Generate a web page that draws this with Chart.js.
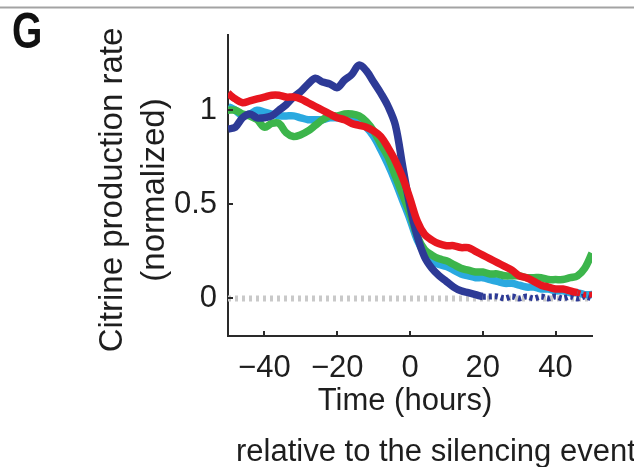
<!DOCTYPE html>
<html>
<head>
<meta charset="utf-8">
<script src="https://cdn.jsdelivr.net/npm/chart.js@4/dist/chart.umd.min.js"></script>
<style>
  html, body { margin: 0; padding: 0; background: #fff; }
  #wrap { width: 634px; height: 467px; position: relative; }
</style>
</head>
<body>
<div id="wrap"><canvas id="c" width="634" height="467"></canvas></div>
<script>
// ---- data ----
const timeHours = [-50,-48,-46,-44,-42,-40,-38,-36,-34,-32,-30,-28,-26,-24,-22,-20,-18,-16,-14,-12,-10,-8,-6,-4,-2,0,2,4,6,8,10,12,14,16,18,20,22,24,26,28,30,32,34,36,38,40,42,44,46,48,50];

const blueRate = [0.90,0.91,0.96,0.98,0.96,0.96,0.97,1.00,1.03,1.07,1.10,1.14,1.17,1.15,1.14,1.12,1.16,1.19,1.24,1.21,1.15,1.09,1.02,0.92,0.70,0.49,0.33,0.22,0.16,0.12,0.09,0.06,0.04,0.03,0.02,0.01,0.01,0.01,0.00,0.01,0.00,0.01,0.00,0.01,0.00,0.01,0.00,0.01,0.00,0.01,0.00];

const cyanRate = [1.02,1.00,0.97,0.98,1.00,0.99,0.98,0.97,0.97,0.97,0.96,0.95,0.95,0.95,0.96,0.96,0.96,0.95,0.94,0.91,0.86,0.79,0.71,0.62,0.52,0.42,0.31,0.24,0.20,0.18,0.17,0.15,0.13,0.12,0.11,0.11,0.10,0.09,0.08,0.08,0.07,0.06,0.06,0.05,0.05,0.04,0.04,0.03,0.03,0.02,0.02];

const greenRate = [1.00,1.00,0.98,0.97,0.95,0.91,0.93,0.93,0.88,0.86,0.87,0.89,0.92,0.95,0.97,0.97,0.98,0.98,0.97,0.94,0.89,0.82,0.75,0.65,0.55,0.45,0.33,0.26,0.23,0.21,0.20,0.18,0.16,0.15,0.14,0.14,0.13,0.13,0.12,0.12,0.12,0.11,0.11,0.11,0.10,0.10,0.10,0.11,0.12,0.16,0.24];

const redRate = [1.09,1.06,1.04,1.05,1.06,1.07,1.08,1.08,1.07,1.07,1.06,1.04,1.02,1.00,0.98,0.96,0.95,0.93,0.92,0.91,0.89,0.86,0.80,0.73,0.64,0.53,0.41,0.34,0.31,0.29,0.28,0.28,0.27,0.27,0.25,0.23,0.21,0.19,0.17,0.15,0.12,0.11,0.09,0.07,0.06,0.05,0.05,0.04,0.03,0.02,0.02];

const baselineRate = timeHours.map(() => 0);

const xTickValues = [-40, -20, 0, 20, 40];
const yTickValues = [0, 0.5, 1];
const blueDottedFrom = 20;   // hours: blue trace drawn dotted from here on
const redDottedFrom = 46;    // hours: red trace drawn dotted from here on

const yTitleLines = ['Citrine production rate', '(normalized)'];
const xTitleLines = ['Time (hours)', 'relative to the silencing event'];
const panelLetter = 'G';

// ---- chart ----
const pts = (arr) => timeHours.map((t, i) => ({ x: t, y: arr[i] }));
const minus = (v) => (v < 0 ? '\u2212' + Math.abs(v) : String(v));
const FONT = '"Liberation Sans", Arial, Helvetica, sans-serif';
const TEXT = '#1e1e1e';
const AXIS = '#2a2a2a';

const decor = {
  id: 'decor',
  afterDraw(chart) {
    const ctx = chart.ctx;
    const xs = chart.scales.x, ys = chart.scales.y;
    const ca = chart.chartArea;
    ctx.save();
    // top rule
    ctx.strokeStyle = '#a3a3a3';
    ctx.lineWidth = 2;
    ctx.beginPath(); ctx.moveTo(0, 7.5); ctx.lineTo(chart.width, 7.5); ctx.stroke();
    // inward tick marks
    ctx.strokeStyle = AXIS;
    ctx.lineWidth = 2;
    xTickValues.forEach(v => {
      const px = Math.round(xs.getPixelForValue(v));
      ctx.beginPath(); ctx.moveTo(px, ca.bottom); ctx.lineTo(px, ca.bottom - 5); ctx.stroke();
    });
    yTickValues.forEach(v => {
      const py = Math.round(ys.getPixelForValue(v));
      ctx.beginPath(); ctx.moveTo(ca.left, py); ctx.lineTo(ca.left + 5, py); ctx.stroke();
    });
    // panel letter (condensed bold)
    ctx.save();
    ctx.fillStyle = '#111';
    ctx.font = 'bold 50px ' + FONT;
    ctx.textAlign = 'left'; ctx.textBaseline = 'alphabetic';
    ctx.translate(12, 48);
    ctx.scale(0.78, 1);
    ctx.fillText(panelLetter, 0, 0);
    ctx.restore();
    // x titles
    ctx.fillStyle = TEXT;
    ctx.font = '31px ' + FONT;
    ctx.textAlign = 'center';
    ctx.fillText(xTitleLines[0], 405, 410);
    ctx.textAlign = 'left';
    ctx.fillText(xTitleLines[1], 236, 461);
    // y titles
    ctx.font = '33px ' + FONT;
    ctx.textAlign = 'center';
    [[yTitleLines[0], 122], [yTitleLines[1], 164]].forEach(([txt, bx]) => {
      ctx.save();
      ctx.translate(bx, 190);
      ctx.rotate(-Math.PI / 2);
      ctx.fillText(txt, 0, 0);
      ctx.restore();
    });
    ctx.restore();
  }
};

const lineDs = (label, data, color, order, dashFrom) => ({
  label, data: pts(data), borderColor: color, backgroundColor: color,
  borderWidth: 7.5, pointRadius: 0, tension: 0.35, order,
  borderCapStyle: 'butt', borderJoinStyle: 'round',
  segment: dashFrom === undefined ? undefined : {
    borderDash: c => (c.p0.parsed.x >= dashFrom ? [3, 3] : undefined),
    borderWidth: c => (c.p0.parsed.x >= dashFrom ? 6 : 7.5)
  }
});

new Chart(document.getElementById('c'), {
  type: 'line',
  data: {
    datasets: [
      { label: 'baseline', data: pts(baselineRate), borderColor: '#c9c9c9',
        borderWidth: 6, borderDash: [3, 4], pointRadius: 0, order: 5, borderCapStyle: 'butt' },
      lineDs('cyan', cyanRate, '#2aa9e0', 4),
      lineDs('green', greenRate, '#3cb54b', 3),
      lineDs('blue', blueRate, '#2d3a96', 2, blueDottedFrom),
      lineDs('red', redRate, '#e8161f', 1, redDottedFrom)
    ]
  },
  options: {
    responsive: false,
    animation: false,
    events: [],
    layout: { padding: { left: 0, top: 35, right: 42, bottom: 0 } },
    plugins: { legend: { display: false }, tooltip: { enabled: false } },
    scales: {
      x: {
        type: 'linear', min: -50, max: 50,
        grid: { display: false, drawTicks: false },
        border: { display: true, color: AXIS, width: 2 },
        afterBuildTicks: s => { s.ticks = xTickValues.map(v => ({ value: v })); },
        afterFit: s => { s.height = 131; },
        ticks: { color: TEXT, font: { family: FONT, size: 31 }, padding: 14,
                 maxRotation: 0, autoSkip: false, callback: v => minus(v) }
      },
      y: {
        type: 'linear', min: -0.2, max: 1.4,
        grid: { display: false, drawTicks: false },
        border: { display: true, color: AXIS, width: 2 },
        afterBuildTicks: s => { s.ticks = yTickValues.map(v => ({ value: v })); },
        afterFit: s => { s.width = 228; },
        ticks: { color: TEXT, font: { family: FONT, size: 31 }, padding: 11,
                 autoSkip: false, callback: v => String(v) }
      }
    }
  },
  plugins: [decor]
});
</script>
</body>
</html>
